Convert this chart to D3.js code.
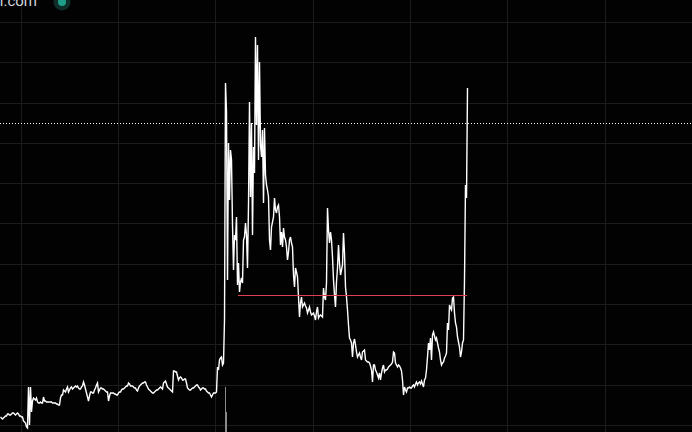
<!DOCTYPE html>
<html><head><meta charset="utf-8">
<script src="https://cdn.jsdelivr.net/npm/d3@7/dist/d3.min.js"></script>
<style>html,body{margin:0;padding:0;background:#020202;overflow:hidden}</style>
</head><body><svg id="c" width="692" height="432"></svg>
<script>
// price series, one value per time step
const prices = [
8,7,6,7,8,9,9,11,11,10,10,11,12,12,11,10,11,12,11,9,
9,8,8,4,3,2,-2,-3,38,0,38,13,24,27,26,25,27,23,22,22,
23,22,22,28,24,24,23,23,23,23,23,23,22,22,22,22,21,21,20,20,
27,30,30,35,34,33,36,38,33,35,37,38,36,37,38,39,38,39,37,36,
36,38,39,43,40,36,32,28,24,29,33,33,32,32,35,37,40,42,33,35,
37,37,36,36,35,34,33,33,24,29,32,32,32,32,31,31,30,30,32,33,
33,35,36,36,37,38,39,39,42,41,39,39,39,38,37,37,35,34,37,39,
40,41,42,42,43,43,40,38,36,35,34,33,32,32,33,34,35,35,36,37,
38,37,36,42,43,44,41,38,37,36,35,34,33,54,54,53,53,49,45,47,
48,47,45,45,46,46,42,37,36,35,35,36,37,37,38,39,40,40,38,37,
35,36,37,37,36,36,34,33,32,32,30,28,30,32,32,32,33,58,55,65,
67,68,60,62,105,342,313,145,282,225,275,265,200,155,190,185,208,140,162,133,
143,147,142,185,188,202,190,157,220,323,228,302,190,278,252,388,300,380,265,363,
280,268,295,222,297,250,240,235,228,185,175,198,203,208,227,215,212,218,220,208,
180,193,178,197,188,185,178,165,173,185,188,182,178,150,138,157,153,148,128,108,
122,128,118,120,122,119,117,112,115,118,113,110,111,112,109,105,113,118,107,109,
110,109,108,137,128,125,142,217,195,182,193,185,168,145,130,118,143,157,180,162,
150,155,160,192,172,138,128,115,100,87,85,82,68,82,86,80,73,68,70,72,
68,65,73,74,75,65,64,63,63,62,59,55,43,60,60,55,53,50,47,52,
45,52,57,60,53,55,55,56,58,59,60,61,63,73,72,62,60,58,60,59,
57,54,45,30,38,35,33,37,37,38,37,37,39,40,38,41,43,40,42,43,
41,44,41,38,45,47,55,68,82,75,87,65,90,93,89,85,87,82,77,73,
65,60,62,63,67,69,72,102,95,120,117,115,127,128,112,102,98,88,83,78,
68,73,82,85,145,240,227,337
];
// horizontal level (red) and dotted marker level
const levelPrice = 130;
const levelFrom = 238;
const levelTo = 467;
const markerPrice = 302;
// volume bars
const volumeTimes = [225, 226];
const volumeValues = [45, 20];
// grid positions
const gridTimes = [21, 118, 215, 313, 410, 507, 605];
const gridPrices = [0, 40, 81, 121, 161, 202, 242, 282, 322, 363, 403];
const sourceLabel = "l.com";

const W = 692, H = 432;
const svg = d3.select("#c");
svg.append("rect").attr("width", W).attr("height", H).attr("fill", "#020202");

const x = d3.scaleLinear().domain([0, W]).range([0, W]);
const y = d3.scaleLinear().domain([0, 403]).range([425, 22]);
const yv = d3.scaleLinear().domain([0, 45]).range([H, 387]);

const grid = svg.append("g").attr("stroke", "#1c1c1c").attr("stroke-width", 1);
grid.selectAll(".gx").data(gridTimes).join("line")
  .attr("x1", d => Math.round(x(d)) + 0.5).attr("x2", d => Math.round(x(d)) + 0.5)
  .attr("y1", 0).attr("y2", H);
grid.selectAll(".gy").data(gridPrices).join("line")
  .attr("y1", d => Math.round(y(d)) + 0.5).attr("y2", d => Math.round(y(d)) + 0.5)
  .attr("x1", 0).attr("x2", W);

// volume
svg.append("g").selectAll("rect").data(volumeTimes).join("rect")
  .attr("x", d => x(d)).attr("width", 1)
  .attr("y", (d, i) => yv(volumeValues[i]))
  .attr("height", (d, i) => yv(0) - yv(volumeValues[i]))
  .attr("fill", "#8a8a8a");

// dotted marker line
svg.append("line")
  .attr("x1", 0).attr("x2", W)
  .attr("y1", Math.round(y(markerPrice)) + 0.5).attr("y2", Math.round(y(markerPrice)) + 0.5)
  .attr("stroke", "#ffffff").attr("stroke-width", 1).attr("stroke-dasharray", "1,2");

// price line
const line = d3.line().x((d, i) => x(i) + 0.5).y(d => y(d));
svg.append("path").datum(prices)
  .attr("d", line).attr("fill", "none")
  .attr("stroke", "#ffffff").attr("stroke-width", 1.4)
  .attr("stroke-linejoin", "miter");

// red level
svg.append("line")
  .attr("x1", x(levelFrom)).attr("x2", x(levelTo))
  .attr("y1", Math.round(y(levelPrice)) + 0.5).attr("y2", Math.round(y(levelPrice)) + 0.5)
  .attr("stroke", "#e0404e").attr("stroke-width", 1);

// header label + status dot
svg.append("text").attr("x", 37).attr("y", 6)
  .attr("text-anchor", "end")
  .attr("font-family", "Roboto, 'Liberation Sans', sans-serif")
  .attr("font-size", 15).attr("fill", "#d1d4dc").text(sourceLabel);
svg.append("circle").attr("cx", 62).attr("cy", 2).attr("r", 8.5).attr("fill", "#0f2e29");
svg.append("circle").attr("cx", 62).attr("cy", 2).attr("r", 4).attr("fill", "#1e9e86");
</script>
</body></html>
